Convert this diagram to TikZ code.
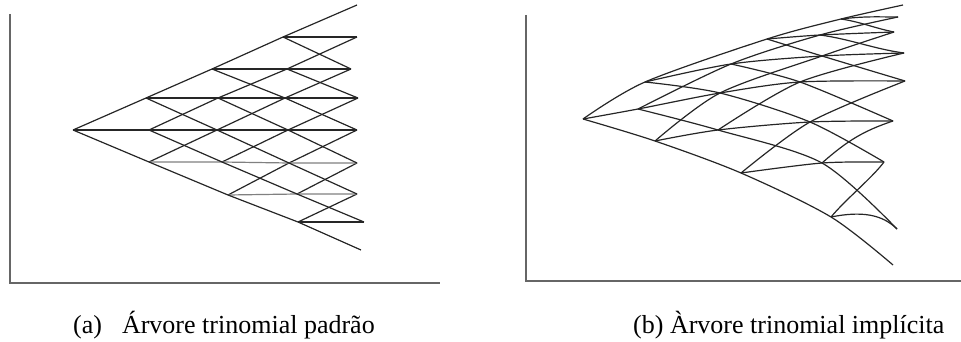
\documentclass[tikz,border=0pt]{standalone}
\usepackage{fontspec}
\setmainfont{Liberation Serif}
\begin{document}
\begin{tikzpicture}[x=1pt,y=-1pt,
  axis/.style={line width=2pt, draw=black!60},
  tline/.style={line width=1.2pt, draw=black!85, line join=round},
  tlight/.style={line width=1.2pt, draw=black!50, line join=round},
  rline/.style={line width=1.2pt, draw=black!85, line join=round},
  captext/.style={anchor=base west, inner sep=0pt, font=\fontsize{26}{30}\selectfont}]
\useasboundingbox (0,0) rectangle (961,342);

% ---------- axes ----------
\coordinate (LA1) at (9.5,14);
\coordinate (LO)  at (9.5,282.5);
\coordinate (LA2) at (440,282.5);
\coordinate (RA1) at (526,15);
\coordinate (RO)  at (526,281);
\coordinate (RA2) at (961,281);
\draw[axis] (LA1) -- (LO) -- (LA2);
\draw[axis] (RA1) -- (RO) -- (RA2);

% ---------- left tree nodes ----------
\coordinate (L00) at (73,130);
\coordinate (L11) at (146,98);  \coordinate (L10) at (149,130); \coordinate (L1m1) at (149,162);
\coordinate (L22) at (212,69);  \coordinate (L21) at (218,98);  \coordinate (L20) at (217,130);
\coordinate (L2m1) at (222,162); \coordinate (L2m2) at (228,195);
\coordinate (L33) at (283,37);  \coordinate (L32) at (287,69);  \coordinate (L31) at (285,98);
\coordinate (L30) at (288,130); \coordinate (L3m1) at (289,163); \coordinate (L3m2) at (297,194);
\coordinate (L3m3) at (298,222);
\coordinate (L44) at (357,5);   \coordinate (L43) at (357,37);  \coordinate (L42) at (351,69);
\coordinate (L41) at (358,98);  \coordinate (L40) at (357,130); \coordinate (L4m1) at (357,163);
\coordinate (L4m2) at (357,194); \coordinate (L4m3) at (364,222); \coordinate (L4m4) at (361,250);

% up lines
\draw[tline] (L00) -- (L11) -- (L22) -- (L33) -- (L44);
\draw[tline] (L10) -- (L21) -- (L32) -- (L43);
\draw[tline] (L1m1) -- (L20) -- (L31) -- (L42);
\draw[tline] (L2m1) -- (L30) -- (L41);
\draw[tline] (L2m2) -- (L3m1) -- (L40);
\draw[tline] (L3m2) -- (L4m1);
\draw[tline] (L3m3) -- (L4m2);
% horizontal lines
\draw[tline] (L00) -- (L10) -- (L20) -- (L30) -- (L40);
\draw[tline] (L11) -- (L21) -- (L31) -- (L41);
\draw[tlight] (L1m1) -- (L2m1) -- (L3m1) -- (L4m1);
\draw[tline] (L22) -- (L32) -- (L42);
\draw[tlight] (L2m2) -- (L3m2) -- (L4m2);
\draw[tline] (L33) -- (L43);
\draw[tline] (L3m3) -- (L4m3);
% down lines
\draw[tline] (L00) -- (L1m1) -- (L2m2) -- (L3m3) -- (L4m4);
\draw[tline] (L10) -- (L2m1) -- (L3m2) -- (L4m3);
\draw[tline] (L11) -- (L20) -- (L3m1) -- (L4m2);
\draw[tline] (L21) -- (L30) -- (L4m1);
\draw[tline] (L22) -- (L31) -- (L40);
\draw[tline] (L32) -- (L41);
\draw[tline] (L33) -- (L42);

% ---------- right tree nodes ----------
\coordinate (R00) at (583,119);
\coordinate (R11) at (645,82);  \coordinate (R10) at (638,109); \coordinate (R1m1) at (655,141);
\coordinate (R22) at (767,39);  \coordinate (R21) at (731,64);  \coordinate (R20) at (720,93);
\coordinate (R2m1) at (718,130); \coordinate (R2m2) at (741,173);
\coordinate (R33) at (841,19);  \coordinate (R32) at (820,35);  \coordinate (R31) at (822,56);
\coordinate (R30) at (800,82);  \coordinate (R3m1) at (810,122); \coordinate (R3m2) at (822,163);
\coordinate (R3m3) at (831,217);
\coordinate (R44) at (903,5);   \coordinate (R43) at (898,17);  \coordinate (R42) at (894,32);
\coordinate (R41) at (904,53);  \coordinate (R40) at (905,81);  \coordinate (R4m1) at (893,121);
\coordinate (R4m2) at (884,162); \coordinate (R4m3) at (897,229); \coordinate (R4m4) at (893,265);

% up curves
\draw[rline] plot[smooth] coordinates {(R00) (R11) (R22) (R33) (R44)};
\draw[rline] plot[smooth] coordinates {(R10) (R21) (R32) (R43)};
\draw[rline] plot[smooth] coordinates {(R1m1) (R20) (R31) (R42)};
\draw[rline] plot[smooth] coordinates {(R2m1) (R30) (R41)};
\draw[rline] plot[smooth] coordinates {(R2m2) (R3m1) (R40)};
\draw[rline] (R3m2) .. controls +(25,-22) and +(-30,10) .. (R4m1);
\draw[rline] (R3m3) .. controls +(15,-18) and +(-12,16) .. (R4m2);
% horizontal curves
\draw[rline] plot[smooth] coordinates {(R00) (R10) (R20) (R30) (R40)};
\draw[rline] plot[smooth] coordinates {(R11) (R21) (R31) (R41)};
\draw[rline] plot[smooth] coordinates {(R1m1) (R2m1) (R3m1) (R4m1)};
\draw[rline] plot[smooth] coordinates {(R22) (R32) (R42)};
\draw[rline] plot[smooth] coordinates {(R2m2) (R3m2) (R4m2)};
\draw[rline] (R33) .. controls +(25,-3) and +(-20,0) .. (R43);
\draw[rline] (R3m3) .. controls +(30,-6) and +(-15,-15) .. (R4m3);
% down curves
\draw[rline] plot[smooth] coordinates {(R00) (R1m1) (R2m2) (R3m3) (R4m4)};
\draw[rline] plot[smooth] coordinates {(R10) (R2m1) (R3m2) (R4m3)};
\draw[rline] plot[smooth] coordinates {(R11) (R20) (R3m1) (R4m2)};
\draw[rline] plot[smooth] coordinates {(R21) (R30) (R4m1)};
\draw[rline] plot[smooth] coordinates {(R22) (R31) (R40)};
\draw[rline] (R32) .. controls +(30,4) and +(-30,-4) .. (R41);
\draw[rline] (R33) .. controls +(20,3) and +(-20,-4) .. (R42);

% ---------- captions ----------
\node[captext] (capa) at (73,333) {(a)\hspace{20pt}Árvore trinomial padrão};
\node[captext] (capb) at (633,333) {(b) Àrvore trinomial implícita};
\end{tikzpicture}
\end{document}
